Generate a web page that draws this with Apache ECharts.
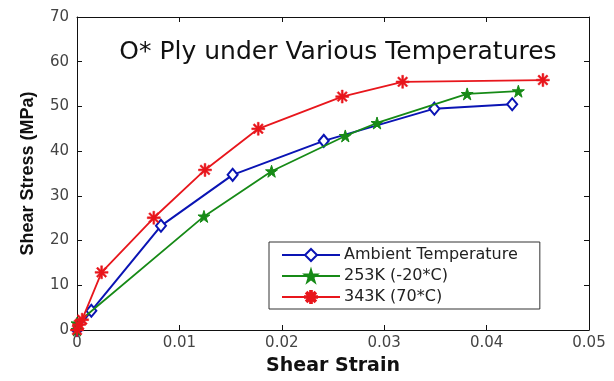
<!DOCTYPE html>
<html>
<head>
<meta charset="utf-8">
<script src="https://cdn.jsdelivr.net/npm/echarts@6/dist/echarts.min.js"></script>
<style>html,body{margin:0;padding:0;background:#fff}#c{width:614px;height:381px}</style>
</head>
<body>
<div id="c"></div>
<script>
const titleText = 'O* Ply under Various Temperatures';
const xName = 'Shear Strain';
const yName = 'Shear Stress (MPa)';
const seriesNames = ['Ambient Temperature', '253K (-20*C)', '343K (70*C)'];

const ambientX = [0, 0.0014, 0.0082, 0.0152, 0.0241, 0.0349, 0.0425];
const ambientY = [0, 4.3, 23.3, 34.7, 42.3, 49.5, 50.5];

const coldX = [0, 0, 0.0124, 0.0190, 0.0262, 0.0293, 0.0381, 0.0431];
const coldY = [0, 1.5, 25.4, 35.5, 43.4, 46.3, 52.8, 53.4];

const hotX = [0, 0.0002, 0.0005, 0.0024, 0.0075, 0.0125, 0.0177, 0.0259, 0.0318, 0.0455];
const hotY = [0, 1.2, 2.3, 12.9, 25.1, 35.8, 45.0, 52.2, 55.5, 55.9];

const xTicks = [0, 0.01, 0.02, 0.03, 0.04, 0.05];
const yTicks = [0, 10, 20, 30, 40, 50, 60, 70];

const pair = (xs, ys) => xs.map((x, i) => [x, ys[i]]);

const starPath = 'path://M0,-1 L0.2245,-0.309 L0.951,-0.309 L0.363,0.118 L0.588,0.809 L0,0.382 L-0.588,0.809 L-0.363,0.118 L-0.951,-0.309 L-0.2245,-0.309 Z';
const asteriskPath = 'path://M-1,-0.14 L1,-0.14 L1,0.14 L-1,0.14 Z M-0.14,-1 L0.14,-1 L0.14,1 L-0.14,1 Z M-0.6,-0.8 L0.8,0.6 L0.6,0.8 L-0.8,-0.6 Z M0.6,-0.8 L0.8,-0.6 L-0.6,0.8 L-0.8,0.6 Z';

const colors = ['#0a14b4', '#168a16', '#e8161c'];
const chart = echarts.init(document.getElementById('c'), null, {renderer: 'canvas'});

const tickFmt = v => (v === 0 ? '0' : String(+v.toFixed(2)));

chart.setOption({
  animation: false,
  backgroundColor: '#fff',
  grid: {left: 77, right: 25, top: 17, bottom: 39, containLabel: false},
  title: {
    text: titleText,
    left: 333, top: 35, textAlign: 'center',
    textStyle: {fontFamily: 'DejaVu Sans', fontSize: 25, fontWeight: 'normal', color: '#111'}
  },
  legend: {
    orient: 'vertical',
    left: 269, top: 242,
    padding: [5, 22, 4, 12],
    itemGap: 5,
    itemWidth: 58,
    itemHeight: 15,
    backgroundColor: '#fff',
    borderColor: '#333', borderWidth: 1, borderRadius: 0,
    textStyle: {fontFamily: 'DejaVu Sans', fontSize: 16, color: '#222', padding: [0, 0, 0, -1]},
    data: seriesNames
  },
  xAxis: [{
    type: 'value', min: 0, max: 0.05, interval: 0.01,
    name: xName, nameLocation: 'middle', nameGap: 27,
    nameTextStyle: {fontFamily: 'DejaVu Sans', fontWeight: 'bold', fontSize: 19, color: '#111'},
    axisLine: {show: true, onZero: false, lineStyle: {color: '#111', width: 1}},
    axisTick: {show: true, inside: true, length: 5, lineStyle: {color: '#111'}},
    axisLabel: {formatter: tickFmt, fontFamily: 'DejaVu Sans', fontSize: 15, color: '#444', margin: 6},
    splitLine: {show: false}
  }, {
    type: 'value', position: 'top', min: 0, max: 0.05, interval: 0.01,
    axisLine: {show: true, onZero: false, lineStyle: {color: '#111', width: 1}},
    axisTick: {show: true, inside: true, length: 5, lineStyle: {color: '#111'}},
    axisLabel: {show: false}, splitLine: {show: false}
  }],
  yAxis: [{
    type: 'value', min: 0, max: 70, interval: 10,
    name: yName, nameLocation: 'middle', nameGap: 40, nameRotate: 90,
    nameTextStyle: {fontFamily: 'Liberation Sans', fontWeight: 'bold', fontSize: 18, color: '#111'},
    axisLine: {show: true, onZero: false, lineStyle: {color: '#111', width: 1}},
    axisTick: {show: true, inside: true, length: 5, lineStyle: {color: '#111'}},
    axisLabel: {formatter: v => String(v), fontFamily: 'DejaVu Sans', fontSize: 15, color: '#444', margin: 8},
    splitLine: {show: false}
  }, {
    type: 'value', position: 'right', min: 0, max: 70, interval: 10,
    axisLine: {show: true, onZero: false, lineStyle: {color: '#111', width: 1}},
    axisTick: {show: true, inside: true, length: 5, lineStyle: {color: '#111'}},
    axisLabel: {show: false}, splitLine: {show: false}
  }],
  series: [{
    name: seriesNames[0], type: 'line', clip: false,
    data: pair(ambientX, ambientY),
    symbol: 'diamond', symbolSize: [10, 12],
    itemStyle: {color: '#fff', borderColor: colors[0], borderWidth: 2},
    lineStyle: {color: colors[0], width: 2},
    z: 2
  }, {
    name: seriesNames[1], type: 'line', clip: false,
    data: pair(coldX, coldY),
    symbol: starPath, symbolSize: 12,
    itemStyle: {color: colors[1], borderColor: colors[1], borderWidth: 1},
    lineStyle: {color: colors[1], width: 1.8},
    z: 3
  }, {
    name: seriesNames[2], type: 'line', clip: false,
    data: pair(hotX, hotY),
    symbol: asteriskPath, symbolSize: 13,
    itemStyle: {color: colors[2], borderColor: colors[2], borderWidth: 0.5},
    lineStyle: {color: colors[2], width: 1.8},
    z: 4
  }]
});
</script>
</body>
</html>
